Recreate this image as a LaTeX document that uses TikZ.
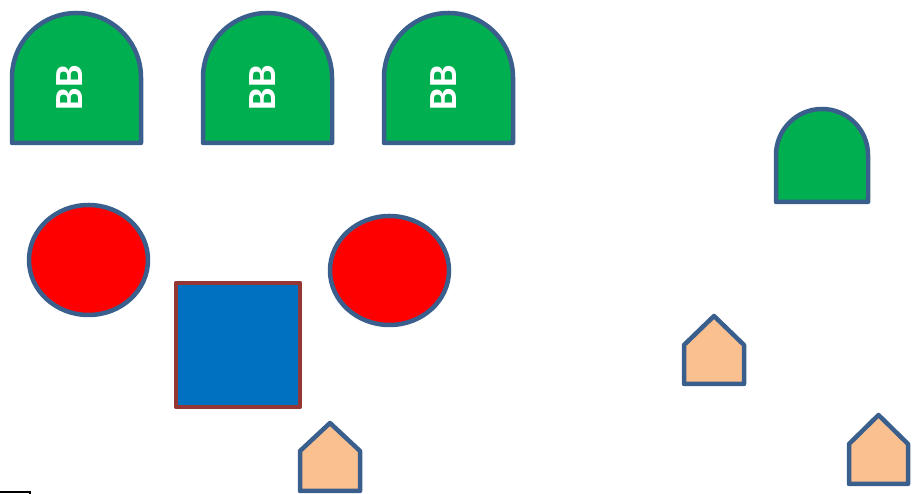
\documentclass[tikz,border=0pt]{standalone}
\usepackage{fontspec}
\newfontfamily\bbfont{Carlito}
\definecolor{edgeblue}{HTML}{3A5F8C}
\definecolor{archgreen}{HTML}{00B050}
\definecolor{boxblue}{HTML}{0070C0}
\definecolor{boxbrown}{HTML}{943634}
\definecolor{peach}{HTML}{FAC090}
\begin{document}
\begin{tikzpicture}[x=1pt,y=1pt,
  arch/.style={draw=edgeblue,fill=archgreen,line width=4.5pt,line join=round},
  disc/.style={draw=edgeblue,fill=red,line width=4.5pt},
  house/.style={draw=edgeblue,fill=peach,line width=4.5pt,line join=round},
  sq/.style={draw=boxbrown,fill=boxblue,line width=4.5pt,line join=round},
  bblabel/.style={text=white,inner sep=0pt,rotate=90,font=\bbfont\bfseries\fontsize{40}{40}\selectfont}]
\useasboundingbox (0,0) rectangle (923,494);
% arches
\draw[arch] (12,351) -- (12,416.5) arc[start angle=180,end angle=0,radius=64.5] -- (141,351) -- cycle;
\draw[arch] (203,351) -- (203,416.5) arc[start angle=180,end angle=0,radius=64.5] -- (332,351) -- cycle;
\draw[arch] (384,351) -- (384,416.5) arc[start angle=180,end angle=0,radius=64.5] -- (513,351) -- cycle;
\draw[arch] (776,292) -- (776,339) arc[start angle=180,end angle=0,radius=46] -- (868,292) -- cycle;
\node[bblabel] (bb1) at (70,406) {BB};
\node[bblabel] (bb2) at (262.5,406) {BB};
\node[bblabel] (bb3) at (443.5,406) {BB};
% discs
\draw[disc] (88.5,234) ellipse[x radius=59.5,y radius=55];
\draw[disc] (389.5,223.5) ellipse[x radius=59.5,y radius=54.5];
% square
\draw[sq] (176,87) rectangle (300,211);
% houses
\draw[house] (300,3) -- (300,43) -- (330,71) -- (360,43) -- (360,3) -- cycle;
\draw[house] (684,110) -- (684,149) -- (714,178) -- (744,149) -- (744,110) -- cycle;
\draw[house] (849,10) -- (849,50) -- (878.5,79) -- (908,50) -- (908,10) -- cycle;
% small corner mark
\draw[black,line width=2pt] (0,2) -- (30,2) -- (30,-2);
\end{tikzpicture}
\end{document}
